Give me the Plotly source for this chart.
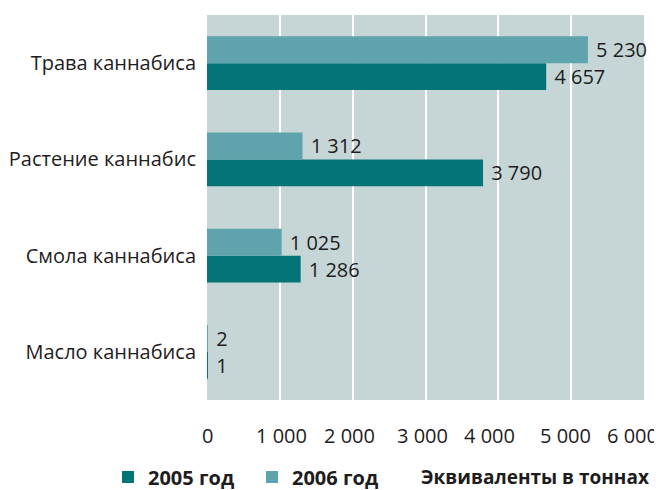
import plotly.graph_objects as go

categories = ["Масло каннабиса", "Смола каннабиса", "Растение каннабис", "Трава каннабиса"]
values_2005 = [1, 1286, 3790, 4657]
values_2006 = [2, 1025, 1312, 5230]
series_names = ["2005 год", "2006 год"]
tick_values = [0, 1000, 2000, 3000, 4000, 5000, 6000]
tick_labels = ["0", "1 000", "2 000", "3 000", "4 000", "5 000", "6 000"]

color_2005 = "#047576"
color_2006 = "#5fa3ac"
bg = "#c6d6d7"
text_color = "#1f1c1d"
font_family = "Open Sans, Noto Sans, sans-serif"
fs = 20

# the page body has an 8px default margin, so the figure is sized to fit the window
W, H, OFF = 662, 490, 8
PL, PR, PT, PB = 207, 644, 15, 400  # plot area in window pixels

def fmt(v):
    return " " + f"{v:,}".replace(",", " ")

def px_x(x):
    return (x - PL) / (PR - PL)

def px_y(y):
    return (PB - y) / (PB - PT)

fig = go.Figure()
fig.add_trace(go.Bar(
    y=categories, x=values_2005, name=series_names[0], orientation="h",
    marker=dict(color=color_2005, line=dict(width=0)),
    text=[fmt(v) for v in values_2005],
    textposition="outside", cliponaxis=False,
    textfont=dict(size=fs, color=text_color, family=font_family),
))
fig.add_trace(go.Bar(
    y=categories, x=values_2006, name=series_names[1], orientation="h",
    marker=dict(color=color_2006, line=dict(width=0)),
    text=[fmt(v) for v in values_2006],
    textposition="outside", cliponaxis=False,
    textfont=dict(size=fs, color=text_color, family=font_family),
))

tick_shift = {1000: 2, 2000: -3, 3000: -3, 4000: -9, 5000: -6, 6000: -12}
annotations = []
for v, lab in zip(tick_values, tick_labels):
    annotations.append(dict(
        x=v, y=0, xref="x", yref="paper", text=lab, showarrow=False,
        xanchor="center", yanchor="top", yshift=-20, xshift=tick_shift.get(v, 0),
        font=dict(size=fs, color=text_color, family=font_family),
    ))
annotations.append(dict(
    x=px_x(651), y=px_y(477), xref="paper", yref="paper",
    text="<b>Эквиваленты в тоннах</b>",
    showarrow=False, xanchor="right", yanchor="middle",
    font=dict(size=fs - 1, color=text_color, family=font_family),
))

fig.update_layout(
    width=W - OFF, height=H - OFF,
    margin=dict(l=PL - OFF, r=W - PR, t=PT - OFF, b=H - PB, autoexpand=False),
    paper_bgcolor="white", plot_bgcolor=bg,
    barmode="group", bargap=0.44, bargroupgap=0,
    font=dict(family=font_family, size=fs, color=text_color),
    showlegend=True,
    legend=dict(
        orientation="h", x=px_x(108), y=px_y(477),
        xanchor="left", yanchor="middle",
        font=dict(size=fs, color=text_color, family=font_family, weight="bold"),
        itemwidth=30, entrywidth=99, traceorder="normal", bgcolor="rgba(0,0,0,0)",
    ),
    xaxis=dict(
        range=[0, 6000], tickvals=tick_values, showticklabels=False,
        showgrid=True, gridcolor="white", gridwidth=2, zeroline=False,
        showline=False, fixedrange=True,
    ),
    yaxis=dict(
        showgrid=False, zeroline=False, showline=False, ticks="",
        ticklabelstandoff=10, automargin=False,
        tickfont=dict(size=fs, color=text_color, family=font_family),
    ),
    annotations=annotations,
)

fig.write_html("out.html")
